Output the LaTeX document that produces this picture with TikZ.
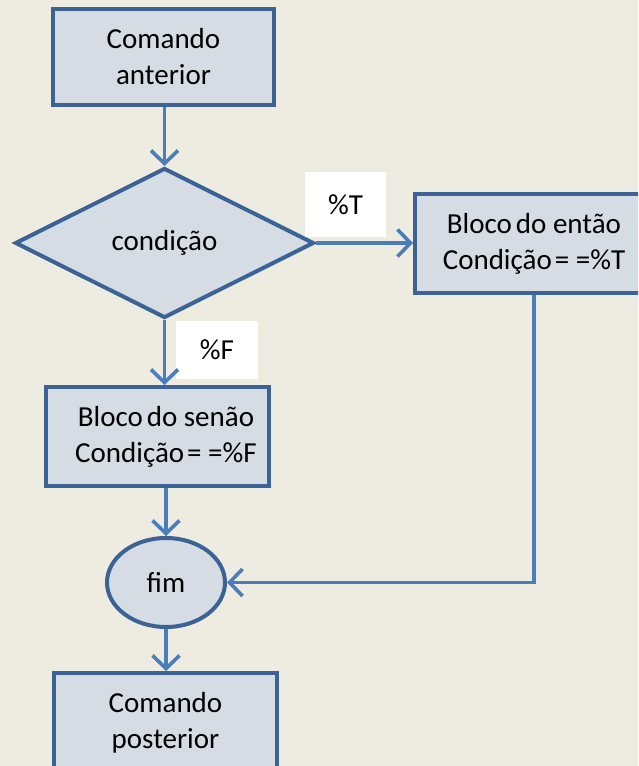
\documentclass[tikz,border=0pt]{standalone}
\usepackage{fontspec}
\setmainfont{Carlito}
\usetikzlibrary{shapes.geometric,arrows.meta}
\definecolor{bg}{HTML}{EEECE1}
\definecolor{bord}{HTML}{3B6396}
\definecolor{conn}{HTML}{4A7EBB}
\definecolor{boxfill}{HTML}{D5DCE3}
\tikzset{
  x=1pt,y=-1pt,
  every node/.style={font=\fontsize{29}{36}\selectfont,align=center,inner sep=0pt},
  procbox/.style={rectangle,draw=bord,fill=boxfill,line width=4pt},
  decbox/.style={diamond,draw=bord,fill=boxfill,line width=4pt},
  endbox/.style={ellipse,draw=bord,fill=boxfill,line width=4pt},
  lbl/.style={rectangle,fill=white},
  conline/.style={draw=conn,line width=3.6pt,-{Straight Barb[length=13pt,width=27pt,line width=3.6pt]}}
}
\begin{document}
\begin{tikzpicture}
\fill[bg] (0,0) rectangle (638,766);
\useasboundingbox (0,0) rectangle (638,766);
\clip (0,0) rectangle (638,766);
\node[procbox,minimum width=221pt,minimum height=96pt] (ant) at (163.5,57) {Comando\\anterior};
\node[decbox,minimum width=299pt,minimum height=150pt] (cond) at (164.5,243) {condição};
\node[procbox,minimum width=238pt,minimum height=99pt] (then) at (534,243.5) {Bloco\hspace{4pt}do então\\Condição\hspace{3pt}= =\%T};
\node[procbox,minimum width=223pt,minimum height=99pt] (else) at (157.5,436.5) {\hspace*{17pt}Bloco\hspace{4pt}do senão\\\hspace*{17pt}Condição\hspace{3pt}= =\%F};
\node[endbox,minimum width=118pt,minimum height=89pt] (fim) at (166,582.5) {fim};
\node[procbox,minimum width=223pt,minimum height=99pt] (post) at (165.5,722.5) {Comando\\posterior};
\node[lbl,minimum width=81pt,minimum height=65pt] (lt) at (345.5,204.5) {\%T};
\node[lbl,minimum width=82pt,minimum height=58pt] (lf) at (217,350) {\%F};
\path[conline] (ant.south -| cond.north) -- (cond.north);
\path[conline] (cond.east) -- (then.west |- cond.east);
\path[conline] (cond.south) -- (else.north -| cond.south);
\path[conline] (else.south -| fim.north) -- (fim.north);
\path[conline] (then.south) |- (fim.east);
\path[conline] (fim.south) -- (post.north -| fim.south);
\end{tikzpicture}
\end{document}
